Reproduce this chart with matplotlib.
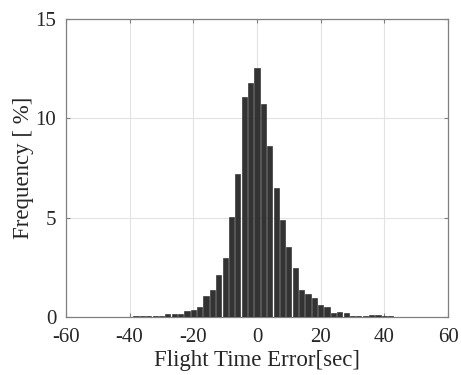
import numpy as np
import matplotlib.pyplot as plt

plt.rcParams['font.family'] = ['Liberation Serif', 'DejaVu Serif']
plt.rcParams['axes.unicode_minus'] = False

# bin centres [sec] and frequency [%]
centers = np.arange(-38, 44, 2)
freq = [0.02, 0.02, 0.02, 0.05, 0.05, 0.12, 0.17, 0.17, 0.29, 0.37,
        0.52, 1.04, 1.36, 2.10, 2.96, 5.01, 7.22, 11.09, 11.78, 12.53,
        10.70, 8.62, 6.47, 4.87, 3.54, 2.44, 1.33, 1.14, 0.94, 0.62,
        0.49, 0.20, 0.24, 0.18, 0.05, 0.03, 0.03, 0.08, 0.08, 0.03,
        0.03]

xticks = [-60, -40, -20, 0, 20, 40, 60]
yticks = [0, 5, 10, 15]

fig = plt.figure(figsize=(4.61, 3.75), dpi=100)
ax = fig.add_axes([0.143, 0.155, 0.829, 0.794])

ax.bar(centers, freq, width=1.62, color='#333333', edgecolor='#222222',
       linewidth=0.4, zorder=3)

ax.set_xlim(-60, 60)
ax.set_ylim(0, 15)
ax.set_xticks(xticks)
ax.set_yticks(yticks)
ax.grid(True, color='#e3e3e3', linewidth=0.8, zorder=0)
ax.set_axisbelow(True)

for s in ax.spines.values():
    s.set_color('#808080')
    s.set_linewidth(0.9)
ax.tick_params(direction='in', length=3, width=0.8, color='#808080',
               top=True, right=True, labelsize=15, labelcolor='#262626')
ax.tick_params(axis='x', pad=8)
ax.tick_params(axis='y', pad=7)

ax.set_xlabel('Flight Time Error[sec]', fontsize=16.5, color='#262626', labelpad=2)
ax.set_ylabel('Frequency [ %]', fontsize=16.5, color='#262626', labelpad=1)

fig.savefig('out.png', dpi=100)
